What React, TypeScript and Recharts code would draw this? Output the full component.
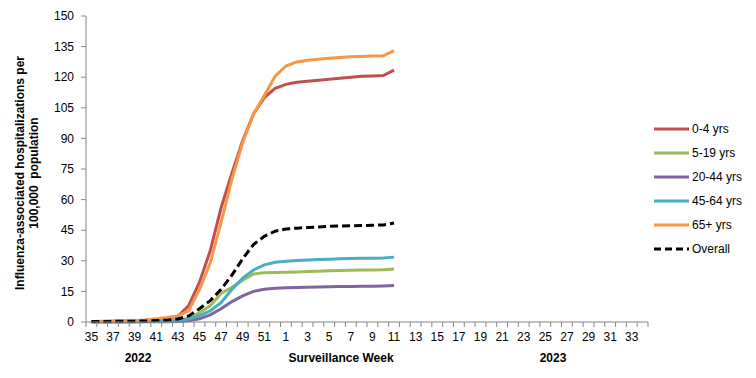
import { LineChart, Line, XAxis, YAxis } from 'recharts'

// surveillance weeks, 2022 season (35-52) into 2023 (1-34)
const weeks = [
  35, 36, 37, 38, 39, 40, 41, 42, 43, 44, 45, 46, 47, 48, 49, 50, 51, 52,
  1, 2, 3, 4, 5, 6, 7, 8, 9, 10, 11, 12, 13, 14, 15, 16, 17, 18, 19, 20,
  21, 22, 23, 24, 25, 26, 27, 28, 29, 30, 31, 32, 33, 34,
]

// cumulative rates per 100,000, weeks 35 through 11
const age0to4 = [
  0.2, 0.3, 0.4, 0.5, 0.6, 0.8, 1.2, 1.8, 2.8, 8.0, 19.5, 35, 56, 73, 89, 102, 110, 114.5,
  116.5, 117.5, 118, 118.5, 119, 119.5, 120, 120.5, 120.6, 120.8, 123.5,
]
const age5to19 = [
  0.1, 0.1, 0.2, 0.2, 0.2, 0.3, 0.4, 0.5, 0.8, 2.0, 4.5, 8.0, 14, 17, 20.5, 23.5, 24.2, 24.3,
  24.4, 24.5, 24.7, 24.9, 25.1, 25.3, 25.4, 25.5, 25.5, 25.6, 26,
]
const age20to44 = [
  0, 0, 0, 0, 0, 0.1, 0.1, 0.1, 0.2, 0.6, 1.6, 3.5, 6.5, 10, 12.8, 15, 16, 16.5,
  16.8, 16.9, 17, 17.1, 17.3, 17.4, 17.4, 17.5, 17.5, 17.7, 17.9,
]
const age45to64 = [
  0.1, 0.1, 0.1, 0.1, 0.2, 0.2, 0.3, 0.4, 0.7, 1.5, 3.0, 5.5, 9.5, 16, 21.5, 25.5, 28, 29.3,
  29.8, 30.2, 30.4, 30.6, 30.8, 31, 31.1, 31.2, 31.3, 31.4, 31.8,
]
const age65plus = [
  0.3, 0.4, 0.5, 0.6, 0.7, 1.0, 1.6, 2.2, 3.0, 5.5, 16, 29, 49, 70, 88, 102, 111, 120.5,
  125.5, 127.5, 128.3, 128.8, 129.3, 129.7, 130, 130.2, 130.4, 130.5, 133,
]
const overall = [
  0.2, 0.3, 0.3, 0.4, 0.4, 0.5, 0.7, 0.9, 1.5, 3, 6.5, 10.5, 16, 23, 31, 38, 42, 44.5,
  45.6, 46, 46.3, 46.6, 46.9, 47.1, 47.2, 47.3, 47.4, 47.6, 48.5,
]

const yTicks = [0, 15, 30, 45, 60, 75, 90, 105, 120, 135, 150]

const series = [
  { key: 'a', name: '0-4 yrs', values: age0to4, color: '#C0504D', dash: undefined },
  { key: 'b', name: '5-19 yrs', values: age5to19, color: '#9BBB59', dash: undefined },
  { key: 'c', name: '20-44 yrs', values: age20to44, color: '#8064A2', dash: undefined },
  { key: 'd', name: '45-64 yrs', values: age45to64, color: '#4BACC6', dash: undefined },
  { key: 'e', name: '65+ yrs', values: age65plus, color: '#F79646', dash: undefined },
  { key: 'f', name: 'Overall', values: overall, color: '#000000', dash: '8 4' },
]

const data = weeks.map((w, i) => {
  const row: Record<string, number | null> = { week: w }
  series.forEach((s) => {
    row[s.key] = i < s.values.length ? s.values[i] : null
  })
  return row
})

const FONT = '"Liberation Sans", Arial, sans-serif'
const AXIS = '#868686'
const HALF = 5.4

function WeekTick(props: any) {
  const { x, y, index, payload } = props
  return (
    <g>
      <line x1={x - HALF} x2={x - HALF} y1={y} y2={y + 5} stroke={AXIS} />
      {index === weeks.length - 1 && <line x1={x + HALF} x2={x + HALF} y1={y} y2={y + 5} stroke={AXIS} />}
      {index % 2 === 0 && (
        <text x={x} y={y + 19} textAnchor="middle" fontSize={12} fill="#000" fontFamily={FONT}>
          {payload.value}
        </text>
      )}
    </g>
  )
}

const bold = { position: 'absolute' as const, fontWeight: 'bold', fontSize: 12, whiteSpace: 'nowrap' as const }

export default function App() {
  return (
    <div style={{ position: 'relative', width: 740, height: 362, fontFamily: FONT, color: '#000' }}>
      <LineChart width={740} height={362} data={data} margin={{ top: 8, right: 100, bottom: 18, left: 0 }}>
        <XAxis
          dataKey="week"
          interval={0}
          height={30}
          padding={{ left: HALF, right: HALF }}
          tickSize={0}
          tickMargin={0}
          tickLine={false}
          axisLine={{ stroke: AXIS }}
          tick={<WeekTick />}
        />
        <YAxis
          width={78}
          domain={[0, 150]}
          ticks={yTicks}
          tickSize={5}
          tickMargin={7}
          axisLine={{ stroke: AXIS }}
          tickLine={{ stroke: AXIS }}
          tick={{ fontSize: 12, fill: '#000', fontFamily: FONT }}
        />
        {series.map((s) => (
          <Line
            key={s.key}
            dataKey={s.key}
            name={s.name}
            stroke={s.color}
            strokeWidth={3}
            strokeDasharray={s.dash}
            dot={false}
            connectNulls={false}
            isAnimationActive={false}
          />
        ))}
      </LineChart>

      <div
        style={{
          position: 'absolute',
          left: 19 - 150,
          top: 165 - 14,
          width: 300,
          height: 28,
          lineHeight: '14px',
          textAlign: 'center',
          fontWeight: 'bold',
          fontSize: 12,
          transform: 'rotate(-90deg)',
        }}
      >
        Influenza-associated hospitalizations per
        <br />
        100,000&nbsp; population
      </div>

      <div style={{ ...bold, left: 130 - 30, width: 60, textAlign: 'center', top: 343 }}>2022</div>
      <div style={{ ...bold, left: 333 - 80, width: 160, textAlign: 'center', top: 343 }}>Surveillance Week</div>
      <div style={{ ...bold, left: 545 - 30, width: 60, textAlign: 'center', top: 343 }}>2023</div>

      {series.map((s, i) => (
        <div
          key={s.key}
          style={{ position: 'absolute', left: 646, top: 121 + i * 24 - 8, height: 16, display: 'flex', alignItems: 'center', fontSize: 12 }}
        >
          <svg width={36} height={6}>
            <line x1={0} x2={35} y1={3} y2={3} stroke={s.color} strokeWidth={3} strokeDasharray={s.dash ? '7 4' : undefined} />
          </svg>
          <span style={{ marginLeft: 2 }}>{s.name}</span>
        </div>
      ))}
    </div>
  )
}
